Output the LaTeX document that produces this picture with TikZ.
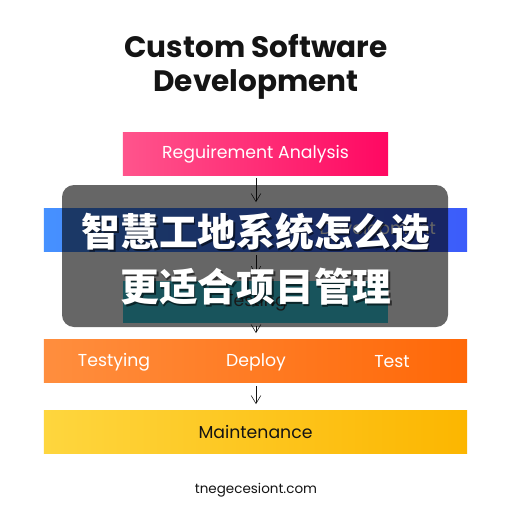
\documentclass[tikz,border=0pt]{standalone}
\usepackage{fontspec}
\setmainfont{Poppins}
\newfontfamily\cjk{Noto Sans CJK SC}
\usetikzlibrary{positioning,calc,backgrounds,arrows.meta}
\definecolor{PinkLeft}{RGB}{255,84,140}
\definecolor{PinkRight}{RGB}{255,8,98}
\definecolor{BlueLeft}{RGB}{70,145,255}
\definecolor{BlueRight}{RGB}{60,92,250}
\definecolor{TealBox}{RGB}{60,210,230}
\definecolor{OrangeLeft}{RGB}{255,142,62}
\definecolor{OrangeRight}{RGB}{255,104,8}
\definecolor{YellowLeft}{RGB}{254,214,62}
\definecolor{YellowRight}{RGB}{252,182,0}
\definecolor{InkDark}{RGB}{20,20,20}

\begin{document}
\begin{tikzpicture}[
  x=0.025cm, y=-0.025cm,
  stage/.style={rectangle, minimum width=6.625cm, minimum height=1.05cm, inner sep=0pt},
  widestage/.style={rectangle, minimum width=10.575cm, minimum height=1.08cm, inner sep=0pt},
  label/.style={font=\fontsize{12.3}{14}\selectfont, text=white},
  arrow/.style={-{Straight Barb[length=2mm,width=2.4mm]}, thin, draw=InkDark, shorten <=0.08cm, shorten >=0.15cm},
  cjkline/.style={font=\cjk\bfseries\fontsize{27.5}{30}\selectfont, text=white}
]
  \useasboundingbox[fill=white] (0,0) rectangle (512,512);

  % Title
  \node[font=\bfseries\fontsize{21}{24}\selectfont, text=InkDark, align=center] (title) at (256,67) {Custom Software\\Development};

  % Stages
  \node[stage, left color=PinkLeft, right color=PinkRight] (req) at (255.5,154) {};
  \node[label] at (req) {Reguirement Analysis};
  \node[widestage, left color=BlueLeft, right color=BlueRight] (design) at (255.5,230) {};
  \node[label, anchor=east] (designtext) at (441,230) {Development};
  \node[stage, fill=TealBox] (testing) at (255.5,302) {};
  \node[label, text=black!75] at (testing) {Testing};
  \node[widestage, left color=OrangeLeft, right color=OrangeRight] (deploybar) at (255.5,361) {};
  \node[label] (testying) at (114,362) {Testying};
  \node[label] (deploy) at (256,362) {Deploy};
  \node[label] (test) at (392,362) {Test};
  \node[widestage, left color=YellowLeft, right color=YellowRight] (maint) at (255.5,432) {};
  \node[label, text=InkDark] at (maint) {Maintenance};

  % Arrows
  \draw[arrow] (req.south -| 256,0) -- (design.north -| 256,0);
  \draw[arrow] (design.south -| 256,0) -- (testing.north -| 256,0);
  \draw[arrow] (testing.south -| 256,0) -- (deploybar.north -| 256,0);
  \draw[arrow] (deploybar.south -| 256,0) -- (maint.north -| 256,0);

  % Footer
  \node[font=\fontsize{9.6}{12}\selectfont, text=InkDark] (footer) at (256,490) {tnegecesiont.com};

  % Overlay banner
  \fill[black, opacity=0.6, rounded corners=0.3cm] (62,185) rectangle (448,327);
  \node[cjkline, text=black, opacity=0.55] at (257.5,233.5) {智慧工地系统怎么选};
  \node[cjkline] (lineone) at (256,232) {智慧工地系统怎么选};
  \node[cjkline, text=black, opacity=0.55] at (257.5,288.5) {更适合项目管理};
  \node[cjkline] (linetwo) at (256,287) {更适合项目管理};
\end{tikzpicture}
\end{document}
